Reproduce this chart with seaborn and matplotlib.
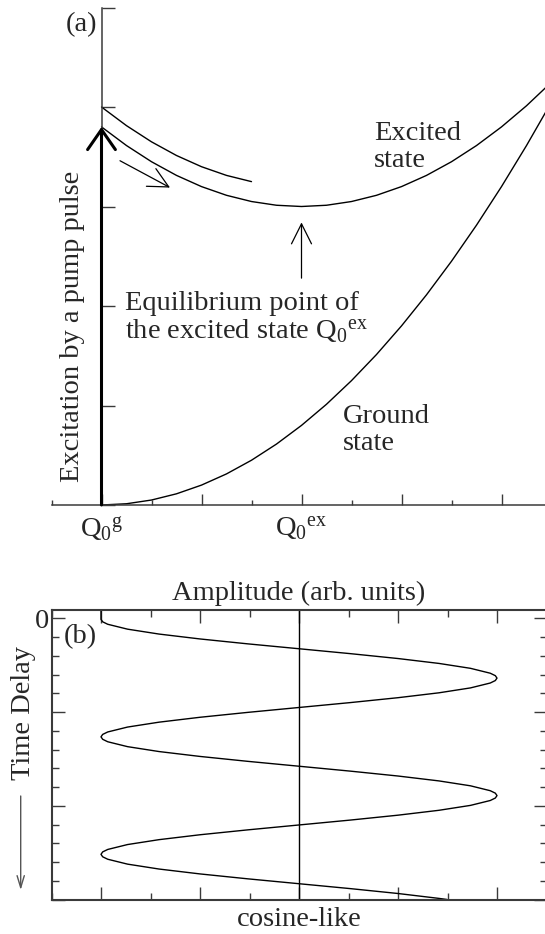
import matplotlib
matplotlib.use("Agg")
import matplotlib.pyplot as plt
import seaborn as sns
import pandas as pd

# ---------------- data ----------------
# panel (a): potential curves vs. configuration coordinate Q
Q_X = [0.0, 0.25, 0.5, 0.75, 1.0, 1.25, 1.5, 1.75, 2.0, 2.25, 2.5, 2.75,
       3.0, 3.25, 3.5, 3.75, 4.0, 4.25, 4.5]
GROUND = [0.0, 0.0125, 0.05, 0.1125, 0.2, 0.3125, 0.45, 0.6125, 0.8, 1.0125,
          1.25, 1.5125, 1.8, 2.1125, 2.45, 2.8125, 3.2, 3.6125, 4.05]
EXCITED = [3.8, 3.6125, 3.45, 3.3125, 3.2, 3.1125, 3.05, 3.0125, 3.0, 3.0125,
           3.05, 3.1125, 3.2, 3.3125, 3.45, 3.6125, 3.8, 4.0125, 4.25]
PATH_X = [0.0, 0.25, 0.5, 0.75, 1.0, 1.25, 1.5]
PATH_Y = [4.0, 3.8125, 3.65, 3.5125, 3.4, 3.3125, 3.25]

A_XTICKS = [0, 1, 2, 3, 4]
A_XTICKLABELS = [r"Q$_0{}^{\mathrm{g}}$", "", r"Q$_0{}^{\mathrm{ex}}$", "", ""]
A_XMINOR = [-0.5, 0.5, 1.5, 2.5, 3.5]
A_YTICKS = [0, 1, 2, 3, 4, 5]

# annotation arrows of panel (a): (start, end) in data units
PUMP_ARROW = ((0.0, 0.0), (0.0, 3.8))
PACKET_ARROW = ((0.185, 3.46), (0.685, 3.19))
EQUIL_ARROW = ((2.0, 2.28), (2.0, 2.84))

# panel (b): cosine-like oscillation of amplitude vs. time delay
DELAY = [-0.09, 0.0100, 0.0361, 0.0623, 0.1145, 0.1668, 0.2190, 0.2713, 0.3235,
         0.3758, 0.4280, 0.4803, 0.5325, 0.5848, 0.6109, 0.6370, 0.6631, 0.6893,
         0.7415, 0.7938, 0.8460, 0.8983, 0.9505, 1.0028, 1.0550, 1.1073, 1.1595,
         1.2118, 1.2379, 1.2640, 1.2901, 1.3163, 1.3685, 1.4208, 1.4730, 1.5253,
         1.5775, 1.6298, 1.6820, 1.7343, 1.7865, 1.8388, 1.8649, 1.8910, 1.9171,
         1.9433, 1.9955, 2.0478, 2.1000, 2.1523, 2.2045, 2.2568, 2.3090, 2.3613,
         2.4135, 2.4658, 2.4919, 2.5180, 2.5441, 2.5703, 2.6225, 2.6748, 2.7270,
         2.7793, 2.8315, 2.8838, 2.9360, 2.9883, 3.0000]
AMPLITUDE = [-2.0, -2.0, -1.983, -1.932, -1.732, -1.414, -1.0, -0.518, 0.0,
             0.518, 1.0, 1.414, 1.732, 1.932, 1.983, 2.0, 1.983, 1.932,
             1.732, 1.414, 1.0, 0.518, 0.0, -0.518, -1.0, -1.414, -1.732,
             -1.932, -1.983, -2.0, -1.983, -1.932, -1.732, -1.414, -1.0, -0.518,
             0.0, 0.518, 1.0, 1.414, 1.732, 1.932, 1.983, 2.0, 1.983,
             1.932, 1.732, 1.414, 1.0, 0.518, 0.0, -0.518, -1.0, -1.414,
             -1.732, -1.932, -1.983, -2.0, -1.983, -1.932, -1.732, -1.414, -1.0,
             -0.518, 0.0, 0.518, 1.0, 1.414, 1.496]

B_XTICKS = [-2, -1, 0, 1, 2]
B_XMINOR = [-2.5, -1.5, -0.5, 0.5, 1.5, 2.5]
B_YTICKS = [0, 1, 2, 3]
B_YTICKLABELS = ["0", "", "", ""]
B_YMINOR = [0.2, 0.4, 0.6, 0.8, 1.2, 1.4, 1.6, 1.8, 2.2, 2.4, 2.6, 2.8]

# ---------------- style ----------------
sns.set_theme(style="white")
plt.rcParams["font.family"] = ["Liberation Serif", "DejaVu Serif"]
plt.rcParams["mathtext.fontset"] = "custom"
plt.rcParams["mathtext.rm"] = "Liberation Serif"
plt.rcParams["mathtext.it"] = "Liberation Serif:italic"
plt.rcParams["mathtext.bf"] = "Liberation Serif:bold"
plt.rcParams["mathtext.default"] = "rm"
FS = 20.5
SPINE = "#3a3a3a"

fig = plt.figure(figsize=(5.45, 9.34), dpi=100)
W, H = 545.0, 934.0

# ---------------- panel (a) ----------------
axa = fig.add_axes([51.5 / W, 1 - 505 / H, 495 / W, 497.5 / H])
df_a = pd.DataFrame({"Q": Q_X, "ground": GROUND, "excited": EXCITED})
sns.lineplot(data=df_a, x="Q", y="ground", ax=axa, color="black", lw=1.0,
             estimator=None, sort=False)
sns.lineplot(data=df_a, x="Q", y="excited", ax=axa, color="black", lw=1.0,
             estimator=None, sort=False)
sns.lineplot(x=PATH_X, y=PATH_Y, ax=axa, color="black", lw=1.0,
             estimator=None, sort=False)
axa.set_xlim(-0.5, 4.45)
axa.set_ylim(0, 5)
axa.set_xlabel("")
axa.set_ylabel("")
for s in ("top", "right"):
    axa.spines[s].set_visible(False)
axa.spines["left"].set_position(("data", 0))
for s in ("left", "bottom"):
    axa.spines[s].set_color(SPINE)
    axa.spines[s].set_linewidth(1.1)
axa.set_xticks(A_XTICKS)
axa.set_xticklabels(A_XTICKLABELS)
axa.set_xticks(A_XMINOR, minor=True)
axa.set_yticks(A_YTICKS)
axa.set_yticklabels([])
axa.tick_params(axis="x", which="major", direction="in", length=8, width=1.0,
                color=SPINE, labelsize=FS, pad=7.5, bottom=True, top=False)
axa.tick_params(axis="x", which="minor", direction="in", length=3.8, width=1.0,
                color=SPINE, bottom=True, top=False)
axa.tick_params(axis="y", which="major", direction="in", length=9.4, width=1.0,
                color=SPINE, left=True, right=False)
for lbl in axa.get_xticklabels():
    lbl.set_x(lbl.get_position()[0])

arrow_kw = dict(shrinkA=0, shrinkB=0, mutation_scale=1, color="black")
axa.annotate("", xy=PUMP_ARROW[1], xytext=PUMP_ARROW[0],
             arrowprops=dict(arrowstyle="->,head_length=14.4,head_width=10",
                             lw=2.2, **arrow_kw))
axa.annotate("", xy=PACKET_ARROW[1], xytext=PACKET_ARROW[0],
             arrowprops=dict(arrowstyle="->,head_length=14.4,head_width=7.2",
                             lw=0.9, **arrow_kw))
axa.annotate("", xy=EQUIL_ARROW[1], xytext=EQUIL_ARROW[0],
             arrowprops=dict(arrowstyle="->,head_length=14.4,head_width=7.2",
                             lw=0.9, **arrow_kw))

axa.text(-0.045, 4.83, "(a)", fontsize=FS, ha="right", va="center")
axa.text(2.725, 3.60, "Excited\nstate", fontsize=FS, ha="left", va="center",
         linespacing=1.12)
axa.text(2.415, 0.754, "Ground\nstate", fontsize=FS, ha="left", va="center",
         linespacing=1.12)
axa.text(0.235, 1.88, "Equilibrium point of\nthe excited state Q$_0{}^{\\mathrm{ex}}$",
         fontsize=FS, ha="left", va="center", linespacing=1.12)
axa.text(-0.285, 1.80, "Excitation by a pump pulse", fontsize=FS, rotation=90,
         ha="center", va="center")

# ---------------- panel (b) ----------------
axb = fig.add_axes([51.5 / W, 1 - 899.5 / H, 495 / W, 289.5 / H])
df_b = pd.DataFrame({"amp": AMPLITUDE, "delay": DELAY})
sns.lineplot(data=df_b, x="amp", y="delay", ax=axb, color="black", lw=1.0,
             estimator=None, sort=False, orient="y")
axb.axvline(0, color="black", lw=1.0)
axb.set_xlim(-2.5, 2.45)
axb.set_ylim(3.0, -0.09)
axb.set_xlabel("cosine-like", fontsize=FS, labelpad=2)
axb.set_ylabel("")
axb.set_title("Amplitude (arb. units)", fontsize=FS, pad=7)
for s in axb.spines.values():
    s.set_color(SPINE)
    s.set_linewidth(1.5)
axb.set_xticks(B_XTICKS)
axb.set_xticklabels([])
axb.set_xticks(B_XMINOR, minor=True)
axb.set_yticks(B_YTICKS)
axb.set_yticklabels(B_YTICKLABELS)
axb.set_yticks(B_YMINOR, minor=True)
axb.tick_params(which="major", direction="in", length=9.4, width=1.0, color=SPINE,
                top=True, bottom=True, left=True, right=True, labelsize=FS, pad=2)
axb.tick_params(which="minor", direction="in", length=4.8, width=1.0, color=SPINE,
                top=True, bottom=True, left=True, right=True)
axb.text(-2.21, 0.194, "(b)", fontsize=FS, ha="center", va="center")

fig.text(24 / W, 1 - 713 / H, "Time Delay", fontsize=FS, rotation=90,
         ha="center", va="center")
fig.add_artist(matplotlib.patches.FancyArrowPatch(
    (20.7 / W, 1 - 796 / H), (20.7 / W, 1 - 890 / H), transform=fig.transFigure,
    arrowstyle="->,head_length=8.6,head_width=2.6", mutation_scale=1,
    lw=1.0, color="#555555", shrinkA=0, shrinkB=0))

fig.savefig("out.png", dpi=100)
